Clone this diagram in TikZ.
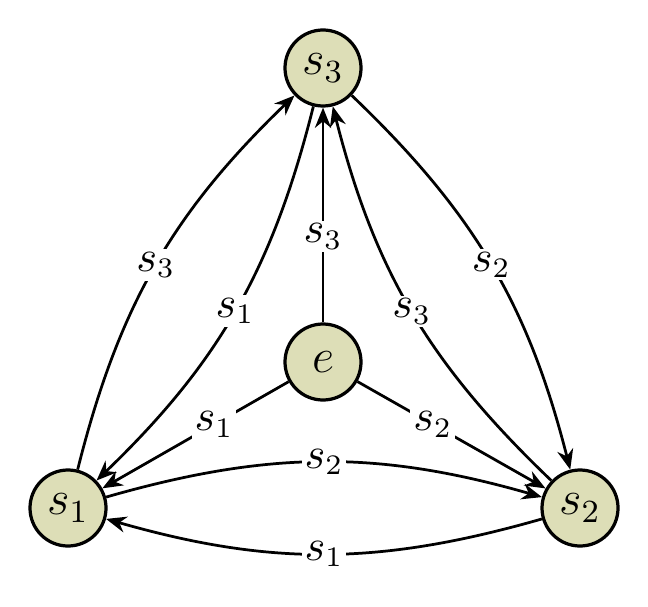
\documentclass[tikz,border=0pt]{standalone}
\usepackage{tikz}
\usetikzlibrary{arrows.meta,positioning}
\definecolor{statefill}{RGB}{221,222,183}
\tikzset{
  statenode/.style={
    circle,
    draw=black,
    line width=0.8pt,
    fill=statefill,
    minimum size=0.661cm,
    inner sep=0pt,
    font=\large
  },
  transarrow/.style={
    -{Stealth[length=5pt,width=4pt]},
    line width=0.68pt,
    draw=black
  },
  translabel/.style={
    fill=white,
    inner sep=0.7pt,
    font=\fontsize{10.5}{12.5}\selectfont
  }
}

\begin{document}
\begin{tikzpicture}[x=0.4348cm,y=0.4348cm]
\useasboundingbox (0,0) rectangle (12.96,12.12);
\node[statenode] (s3) at (6.46,10.76) {$s_3$};
\node[statenode] (e) at (6.46,4.88) {$e$};
\node[statenode] (s1) at (1.36,1.96) {$s_1$};
\node[statenode] (s2) at (11.6,1.96) {$s_2$};

\draw[transarrow] (e) -- node[translabel, pos=0.4] {$s_3$} (s3);
\draw[transarrow] (e) -- node[translabel, pos=0.4] {$s_1$} (s1);
\draw[transarrow] (e) -- node[translabel, pos=0.4] {$s_2$} (s2);
\draw[transarrow] (s1) to[bend left=16] node[translabel] {$s_3$} (s3);
\draw[transarrow] (s3) to[bend left=16] node[translabel] {$s_1$} (s1);
\draw[transarrow] (s3) to[bend left=16] node[translabel] {$s_2$} (s2);
\draw[transarrow] (s2) to[bend left=16] node[translabel] {$s_3$} (s3);
\draw[transarrow] (s1) to[bend left=16] node[translabel] {$s_2$} (s2);
\draw[transarrow] (s2) to[bend left=16] node[translabel] {$s_1$} (s1);
\end{tikzpicture}
\end{document}
